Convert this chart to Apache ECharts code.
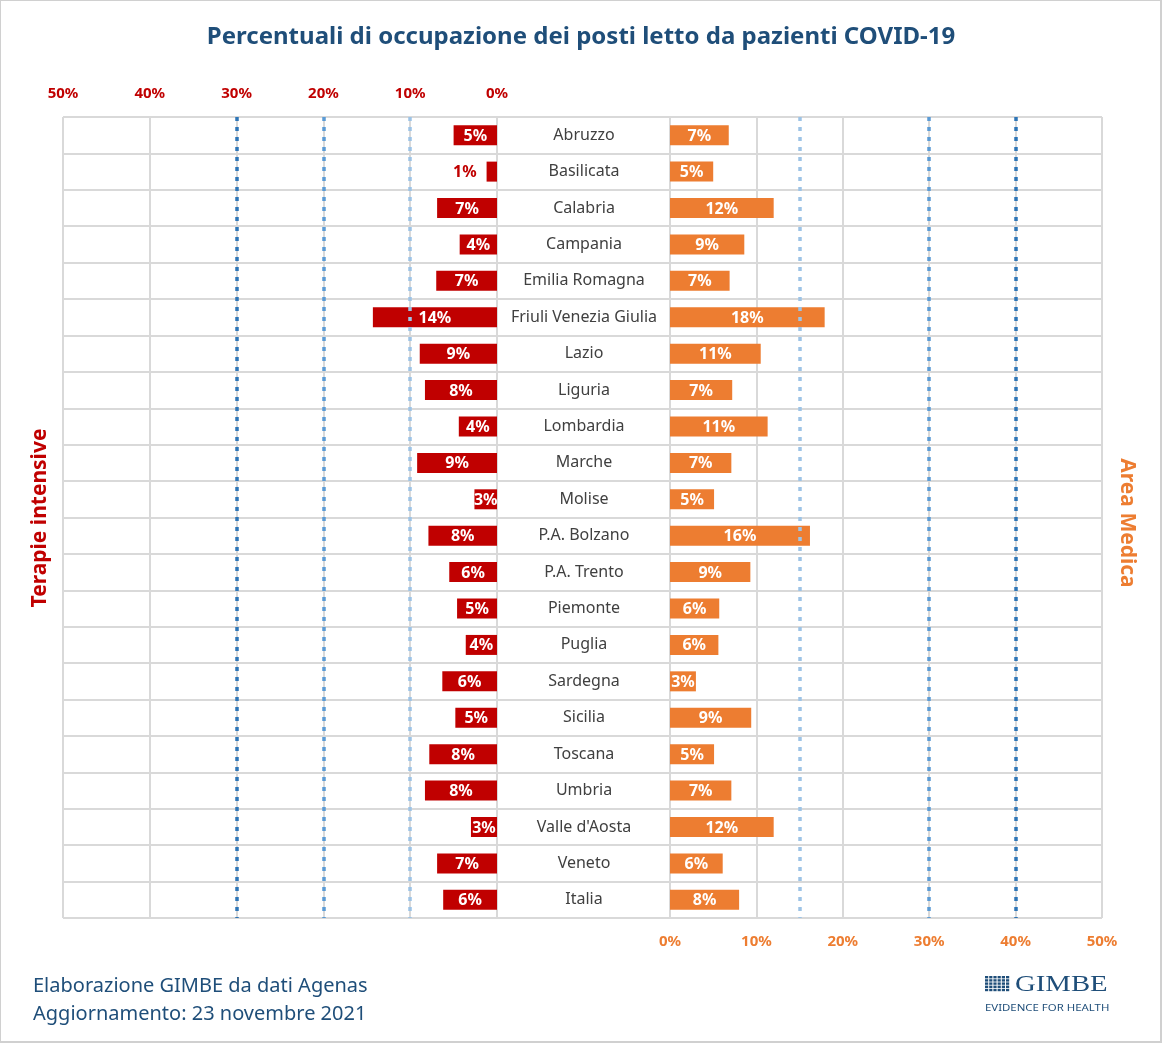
<!DOCTYPE html>
<html>
<head>
<meta charset="utf-8">
<script src="https://cdn.jsdelivr.net/npm/echarts@6/dist/echarts.min.js"></script>
<style>
  html, body { margin: 0; padding: 0; background: #fff; }
  #chart { width: 1162px; height: 1043px; }
</style>
</head>
<body>
<div id="chart"></div>
<script>
const regions = ['Abruzzo', 'Basilicata', 'Calabria', 'Campania', 'Emilia Romagna',
  'Friuli Venezia Giulia', 'Lazio', 'Liguria', 'Lombardia', 'Marche', 'Molise',
  'P.A. Bolzano', 'P.A. Trento', 'Piemonte', 'Puglia', 'Sardegna', 'Sicilia',
  'Toscana', 'Umbria', "Valle d'Aosta", 'Veneto', 'Italia'];
// Terapie intensive (%)
const tiValues = [5.0, 1.2, 6.9, 4.3, 7.0, 14.3, 8.9, 8.3, 4.4, 9.2, 2.6, 7.9,
  5.5, 4.6, 3.6, 6.3, 4.8, 7.8, 8.3, 3.0, 6.9, 6.2];
// Area medica (%)
const amValues = [6.8, 5.0, 12.0, 8.6, 6.9, 17.9, 10.5, 7.2, 11.3, 7.1, 5.1, 16.2,
  9.3, 5.7, 5.6, 3.0, 9.4, 5.1, 7.1, 12.0, 6.1, 8.0];
// soglie
const tiThresholds = [10, 20, 30];
const amThresholds = [15, 30, 40];
const thresholdColors = ['#9dc3e6', '#5b9bd5', '#2e75b6'];

const RED = '#c00000';
const ORANGE = '#ed7d31';
const BLUE = '#1f4e79';
const GRID = '#d9d9d9';
const FONT = '"Noto Sans", sans-serif';

const chart = echarts.init(document.getElementById('chart'));

function thresholdLines(list) {
  return {
    silent: true,
    symbol: 'none',
    label: { show: false },
    data: list.map((v, i) => ({
      xAxis: v,
      lineStyle: { color: thresholdColors[i], width: 3.5, type: [4, 6] }
    }))
  };
}

const valueAxisBase = {
  type: 'value',
  min: 0,
  max: 50,
  interval: 10,
  axisLine: { show: false },
  axisTick: { show: false },
  splitLine: { show: true, lineStyle: { color: GRID, width: 2 } }
};

const catAxisBase = {
  type: 'category',
  data: regions,
  inverse: true,
  axisLine: { show: false },
  axisTick: { show: false },
  splitLine: { show: true, lineStyle: { color: GRID, width: 2 } }
};

const barLabel = {
  show: true, position: 'inside', color: '#fff', fontWeight: 'bold',
  fontSize: 16, fontFamily: FONT, offset: [0, 1],
  formatter: p => Math.round(p.value) + '%'
};

// logo GIMBE: griglia di quadratini
const logoSquares = [];
for (let r = 0; r < 5; r++) {
  for (let c = 0; c < 6; c++) {
    logoSquares.push({
      type: 'rect', x: 985 + c * 4.2, y: 976 + r * 3.2, silent: true,
      shape: { width: 3.2, height: 2.4 },
      style: { fill: BLUE }
    });
  }
}

const options = {
  backgroundColor: '#fff',
  animation: false,
  title: {
    text: 'Percentuali di occupazione dei posti letto da pazienti COVID-19',
    left: 'center',
    top: 20,
    textStyle: { color: BLUE, fontSize: 24, fontWeight: 'bold', fontFamily: FONT }
  },
  grid: [
    { left: 63, right: 665, top: 117, bottom: 125 },
    { left: 670, right: 60, top: 117, bottom: 125 },
    { left: 497, right: 492, top: 117, bottom: 125 }
  ],
  xAxis: [
    {
      ...valueAxisBase,
      gridIndex: 0,
      inverse: true,
      position: 'top',
      axisLabel: {
        formatter: '{value}%', color: RED, fontWeight: 'bold',
        fontSize: 15, fontFamily: FONT, margin: 16
      }
    },
    {
      ...valueAxisBase,
      gridIndex: 1,
      position: 'bottom',
      axisLabel: {
        formatter: '{value}%', color: ORANGE, fontWeight: 'bold',
        fontSize: 15, fontFamily: FONT, margin: 16
      }
    },
    {
      type: 'value', gridIndex: 2, min: 0, max: 1, show: false
    }
  ],
  yAxis: [
    { ...catAxisBase, gridIndex: 0, axisLabel: { show: false } },
    {
      ...catAxisBase,
      gridIndex: 1,
      position: 'left',
      axisLabel: {
        show: true, align: 'center', margin: 86,
        color: '#404040', fontSize: 16, fontFamily: FONT,
        padding: [3, 0, 0, 0]
      }
    },
    { ...catAxisBase, gridIndex: 2, axisLabel: { show: false } }
  ],
  series: [
    {
      name: 'Terapie intensive',
      type: 'bar',
      xAxisIndex: 0,
      yAxisIndex: 0,
      barWidth: 20,
      itemStyle: { color: RED },
      label: barLabel,
      data: tiValues.map(v => v < 2
        ? { value: v, label: { position: 'left', color: RED, distance: 10 } }
        : v),
      markLine: thresholdLines(tiThresholds)
    },
    {
      name: 'Area Medica',
      type: 'bar',
      xAxisIndex: 1,
      yAxisIndex: 1,
      barWidth: 20,
      itemStyle: { color: ORANGE },
      label: barLabel,
      data: amValues,
      markLine: thresholdLines(amThresholds)
    }
  ],
  graphic: [
    {
      type: 'rect', x: 0, y: 0, silent: true,
      shape: { width: 1161, height: 1042 },
      style: { fill: 'none', stroke: '#d0d0d0', lineWidth: 2 }
    },
    {
      type: 'text', rotation: Math.PI / 2, x: 40, y: 518,
      style: {
        text: 'Terapie intensive', fill: RED, fontSize: 21, fontWeight: 'bold',
        fontFamily: FONT, align: 'center', verticalAlign: 'middle'
      }
    },
    {
      type: 'text', rotation: -Math.PI / 2, x: 1127, y: 523,
      style: {
        text: 'Area Medica', fill: ORANGE, fontSize: 21, fontWeight: 'bold',
        fontFamily: FONT, align: 'center', verticalAlign: 'middle'
      }
    },
    {
      type: 'text', x: 33, y: 986,
      style: {
        text: 'Elaborazione GIMBE da dati Agenas', fill: BLUE, fontSize: 20,
        fontFamily: FONT, verticalAlign: 'middle'
      }
    },
    {
      type: 'text', x: 33, y: 1014,
      style: {
        text: 'Aggiornamento: 23 novembre 2021', fill: BLUE, fontSize: 20,
        fontFamily: FONT, verticalAlign: 'middle'
      }
    },
    ...logoSquares,
    {
      type: 'text', x: 1015, y: 985, scaleX: 1.25,
      style: {
        text: 'GIMBE', fill: BLUE, fontSize: 23, fontFamily: '"Liberation Serif", serif',
        verticalAlign: 'middle'
      }
    },
    {
      type: 'text', x: 985, y: 1008, scaleX: 1.2,
      style: {
        text: 'EVIDENCE FOR HEALTH', fill: BLUE, fontSize: 9.5,
        fontFamily: FONT, verticalAlign: 'middle'
      }
    }
  ]
};

chart.setOption(options);
</script>
</body>
</html>
